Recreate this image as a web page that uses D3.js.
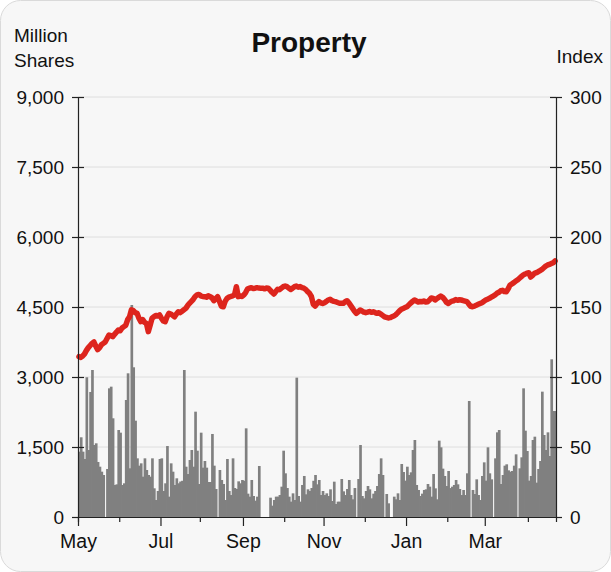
<!DOCTYPE html>
<html>
<head>
<meta charset="utf-8">
<script src="https://cdn.jsdelivr.net/npm/d3@7"></script>
<style>
  body { margin: 0; background: #fff; }
  text { font-family: "Liberation Sans", Arial, sans-serif; fill: #111; }
</style>
</head>
<body>
<script>
// daily turnover (million shares), one value per weekday from start of May
var volume = [
  1400, 1708, 1400, 1243, 2994, 1436, 2679, 3150, 1543, 1579, 1179, 1078, 971, 900,
  0,
  1029, 2757, 2793, 2115, 686, 700, 1864, 1807, 686, 722, 2507, 3079, 1043, 4543, 3208,
  2064, 1257, 1100, 1150, 864, 1257, 1007, 900, 864, 1257, 615, 364, 557, 1243, 1257,
  557, 722, 1521, 436,
  1150, 971, 686, 829, 722, 760, 776, 3150, 1078, 921, 1221, 1436, 1078, 2257, 1421,
  707, 1807, 1057, 1200, 1057, 750, 750, 1779, 1100, 600, 0, 1007, 793, 707, 364,
  1243, 557, 471, 1257, 621, 600, 764, 722, 793, 776, 1900, 500, 436, 793, 450,
  350, 436, 1093,
  0, 0, 0, 0, 0,
  414, 243, 364, 436, 436, 471, 650, 1421, 936, 621, 436, 329, 507, 364, 2986,
  450, 329, 686, 879, 486, 593, 557, 621, 776, 900, 700, 793, 471, 557, 471,
  507, 450, 593, 343, 757, 279, 329, 329, 814, 550, 471, 600, 793, 471, 379,
  621, 0, 814, 1543,
  450, 400, 557, 664, 593, 400, 500, 557, 664, 921, 1257, 900, 0, 493, 293, 0, 0,
  436, 379, 507, 364, 1136, 964, 779, 1078, 900, 957, 1436, 1650, 686, 579, 450,
  500, 579, 593, 707, 650, 436, 921, 614, 379, 1636, 1493, 1036, 879, 664, 986, 620,
  650, 686, 793, 700, 600, 471, 579, 471, 936, 2486, 0,
  579, 493, 807, 471, 364, 879, 1171, 779, 1493, 936, 807, 0,
  1257, 1814, 1864, 707, 900, 1100, 1129, 1000, 971, 986, 1100, 1343, 0,
  1043, 1279, 2757, 1850, 1414, 779, 879, 1650, 1721, 736, 1029, 1200, 2686, 1757,
  1436, 1814, 1307, 3379, 2271, 2271
];

// property index, same days
var index = [
  114.5, 114, 115, 116.5, 119, 121, 122.5, 124, 125, 122,
  119.5, 121, 123, 124, 125, 127.5, 130, 129.5, 128.8, 130.5,
  132, 133.6, 133, 135, 136, 137, 141, 143, 148, 147.5,
  146, 145.5, 142, 139.5, 141, 139, 138.3, 132.4, 137, 142,
  143, 144, 143.5, 144.3, 142, 140, 139.5, 143, 145.5, 145,
  144, 143, 145, 146.6, 146, 147, 148, 149, 151, 152.6,
  154, 155.5, 157.5, 158.6, 159, 158, 157.5, 157.4, 157, 158,
  157.4, 156.5, 154.5, 156, 157.4, 154, 150.5, 150.2, 154, 156.2,
  157, 157.5, 158, 158.6, 164.5, 157.4, 158, 157.5, 158.6, 160.5,
  163, 163.4, 163.8, 163.2, 163.4, 163.8, 163.5, 163.4, 163.4, 163,
  163.5, 163.4, 162, 160.5, 159.3, 161, 162.6, 162.4, 163.5, 164.5,
  165, 164.5, 163.5, 162.6, 163.5, 164.5, 165, 164.2, 164.6, 163.8,
  163.4, 162.5, 161, 159.8, 157.5, 152, 150.7, 152.5, 153.8, 153,
  152.5, 153.1, 154, 155, 155.5, 154.5, 154, 153.8, 153.2, 152.7,
  152.6, 152.6, 153.8, 154.5, 153, 151, 149, 147, 145.5, 146.5,
  147.9, 147.2, 146.3, 145.9, 146.3, 146.8, 146.2, 146.6, 146, 145.5,
  145.9, 145, 144, 143, 142.6, 142.2, 142.4, 143, 143.6, 144.5,
  145.8, 147.2, 148.4, 149, 149.6, 150.2, 151.5, 152.8, 154, 155,
  154.3, 153.6, 153.9, 153.8, 154.3, 153.6, 153.8, 155, 156.5, 156.2,
  155, 156, 157, 157.9, 157, 155.5, 153.5, 152.6, 153.5, 154.2,
  154.5, 155.3, 154.8, 155.2, 155, 154.6, 154.2, 153.8, 152, 150.5,
  150.2, 150.6, 151.3, 151.9, 152.5, 153.1, 154, 155, 155.6, 156.2,
  157, 157.8, 158.6, 159.8, 160.5, 161.6, 161.9, 161, 160.9, 163,
  165.7, 166.5, 167.4, 168.5, 169.3, 170.5, 171.7, 172.9, 173.5, 174.2,
  174.5, 171.4, 172.6, 174, 174.5, 175.2, 176, 176.8, 178, 179.2,
  180, 180.4, 181, 181.6, 182.9
];

var volTicks = [0, 1500, 3000, 4500, 6000, 7500, 9000];
var idxTicks = [0, 50, 100, 150, 200, 250, 300];
var labelMonths = ["May", "Jul", "Sep", "Nov", "Jan", "Mar"];
var firstDay = "2016-05-02";

function chart() {
  var width = 611;
  var height = 572;
  var left = 78, right = 556, top = 97, bottom = 517;

  var svg = d3.select("body").append("svg")
      .attr("width", width)
      .attr("height", height);

  svg.append("rect")
      .attr("x", 0.5).attr("y", 0.5)
      .attr("width", width - 1).attr("height", height - 1)
      .attr("rx", 20)
      .attr("fill", "#f7f7f7")
      .attr("stroke", "#dadada");

  // weekday calendar for the x axis
  var dates = [];
  var day = d3.timeParse("%Y-%m-%d")(firstDay);
  while (dates.length < volume.length) {
    if (day.getDay() != 0 && day.getDay() != 6) dates.push(day);
    day = d3.timeDay.offset(day, 1);
  }
  var monthStarts = [];
  dates.forEach(function(d, i) {
    if (i == 0 || d.getMonth() != dates[i - 1].getMonth()) monthStarts.push(i);
  });
  var fmt = d3.timeFormat("%b");

  var x = d3.scaleLinear().domain([0, volume.length]).range([left, right]);
  var yL = d3.scaleLinear().domain([0, 9000]).range([bottom, top]);
  var yR = d3.scaleLinear().domain([0, 300]).range([bottom, top]);

  // grid
  svg.append("g")
    .selectAll("line")
    .data(volTicks.filter(function(t) { return t > 0; }))
    .enter().append("line")
      .attr("x1", left).attr("x2", right)
      .attr("y1", function(d) { return yL(d); })
      .attr("y2", function(d) { return yL(d); })
      .attr("stroke", "#dedede")
      .attr("stroke-width", 1);

  // volume bars
  var step = x(1) - x(0);
  svg.append("g")
    .selectAll("rect")
    .data(volume)
    .enter().append("rect")
      .attr("x", function(d, i) { return x(i); })
      .attr("width", step + 0.8)
      .attr("y", function(d) { return yL(d); })
      .attr("height", function(d) { return bottom - yL(d); })
      .attr("fill", "#808080");

  // index line
  var line = d3.line()
      .x(function(d, i) { return x(i + 0.5); })
      .y(function(d) { return yR(d); });

  svg.append("path")
      .datum(index)
      .attr("d", line)
      .attr("fill", "none")
      .attr("stroke", "#dd251d")
      .attr("stroke-width", 5.5)
      .attr("stroke-linejoin", "round")
      .attr("stroke-linecap", "round");

  // axes
  var axL = svg.append("g")
      .attr("transform", "translate(" + left + ",0)")
      .call(d3.axisLeft(yL).tickValues(volTicks).tickSize(6).tickPadding(8)
        .tickFormat(d3.format(",")));
  axL.selectAll(".tick line").attr("x1", 6);

  var axR = svg.append("g")
      .attr("transform", "translate(" + right + ",0)")
      .call(d3.axisRight(yR).tickValues(idxTicks).tickSize(6).tickPadding(8));
  axR.selectAll(".tick line").attr("x1", -6);

  var axB = svg.append("g")
      .attr("transform", "translate(0," + bottom + ")")
      .call(d3.axisBottom(x).tickValues(monthStarts).tickSize(5).tickPadding(8)
        .tickFormat(function(i) {
          var m = fmt(dates[i]);
          return labelMonths.indexOf(m) >= 0 ? m : "";
        }));
  axB.selectAll(".tick line")
      .attr("y2", function(i) { return labelMonths.indexOf(fmt(dates[i])) >= 0 ? 9 : 5; });

  [axL, axR, axB].forEach(function(a) {
    a.selectAll("path.domain").attr("stroke", "#222").attr("stroke-width", 1.2);
    a.selectAll(".tick line").attr("stroke", "#222").attr("stroke-width", 1.2);
    a.selectAll("text")
      .style("font-family", "'Liberation Sans', Arial, sans-serif")
      .style("font-size", "19px")
      .attr("fill", "#111");
  });
  axB.selectAll("text").style("font-size", "19.5px").attr("dy", "0.9em");
  axL.selectAll(".tick line").filter(function(d) { return d == 0; }).attr("x1", 0);
  axR.selectAll(".tick line").filter(function(d) { return d == 0; }).attr("x1", 0);

  // titles
  svg.append("text")
      .attr("x", 309).attr("y", 52)
      .attr("text-anchor", "middle")
      .style("font-size", "28px").style("font-weight", "bold")
      .text("Property");

  svg.append("text")
      .attr("x", 14).attr("y", 42)
      .style("font-size", "19px")
      .text("Million");
  svg.append("text")
      .attr("x", 14).attr("y", 67)
      .style("font-size", "19px")
      .text("Shares");
  svg.append("text")
      .attr("x", 603).attr("y", 63)
      .attr("text-anchor", "end")
      .style("font-size", "19px")
      .text("Index");
}
chart();
</script>
</body>
</html>
